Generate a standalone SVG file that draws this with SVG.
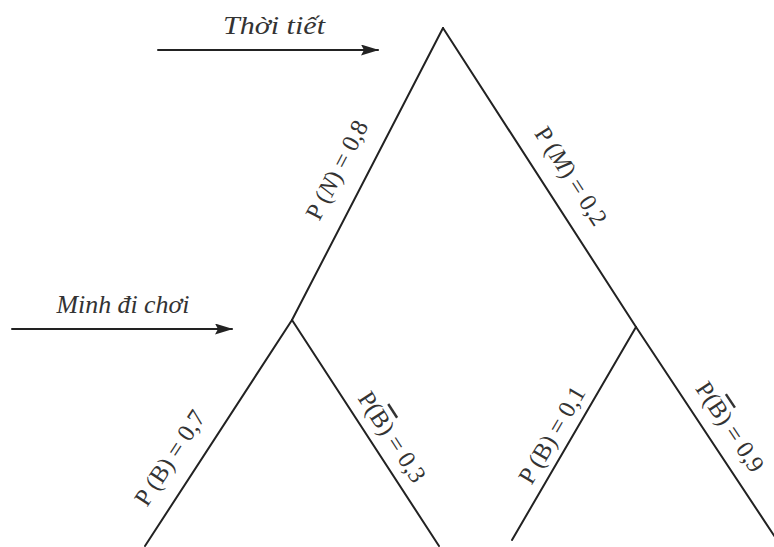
<svg xmlns="http://www.w3.org/2000/svg" width="774" height="547" viewBox="0 0 774 547">
<defs>
<marker id="ah" markerWidth="18" markerHeight="11" refX="17" refY="5.5" orient="auto" markerUnits="userSpaceOnUse">
<path d="M0,0 L18,5.5 L0,11 L3,5.5 Z" fill="#222"/>
</marker>
<style>
.ln{stroke:#222;stroke-width:2;fill:none;stroke-linecap:round}
.lb{font-family:"Liberation Serif","Times New Roman",serif;font-size:24.5px;fill:#333;text-anchor:middle}
.it{font-style:italic}
.ob{text-decoration:overline}
</style>
</defs>
<rect width="774" height="547" fill="#fff"/>
<g id="connectors">
<line class="ln" x1="443" y1="28" x2="292" y2="320"/>
<line class="ln" x1="443" y1="28" x2="636" y2="327"/>
<line class="ln" x1="292" y1="320" x2="145" y2="546"/>
<line class="ln" x1="292" y1="320" x2="439" y2="546"/>
<line class="ln" x1="636" y1="327" x2="512" y2="540"/>
<line class="ln" x1="636" y1="327" x2="775" y2="537"/>
<line class="ln" x1="158" y1="50" x2="378" y2="50" marker-end="url(#ah)"/>
<line class="ln" x1="12" y1="329" x2="232" y2="329" marker-end="url(#ah)"/>
</g>
<g id="label-thoitiet"><text class="lb it" x="274" y="34" font-size="25" textLength="102" lengthAdjust="spacingAndGlyphs">Thời tiết</text></g>
<g id="label-minh"><text class="lb it" x="123" y="313" font-size="25" textLength="133" lengthAdjust="spacingAndGlyphs">Minh đi chơi</text></g>
<g id="edge-N"><text class="lb" transform="translate(337,170) rotate(-62.7)" y="8">P (<tspan class="it">N</tspan>) = 0,8</text></g>
<g id="edge-M"><text class="lb" transform="translate(571,176) rotate(57.2)" y="8">P (<tspan class="it">M</tspan>) = 0,2</text></g>
<g id="edge-B1"><text class="lb" transform="translate(170,458) rotate(-56.8)" y="8">P (B) = 0,7</text></g>
<g id="edge-Bbar1"><text class="lb" transform="translate(392,437) rotate(57)" y="8">P(<tspan class="ob">B</tspan>) = 0,3</text></g>
<g id="edge-B2"><text class="lb" transform="translate(552,435) rotate(-59.6)" y="8">P (B) = 0,1</text></g>
<g id="edge-Bbar2"><text class="lb" transform="translate(730,427) rotate(56.4)" y="8">P(<tspan class="ob">B</tspan>) = 0,9</text></g>
</svg>
